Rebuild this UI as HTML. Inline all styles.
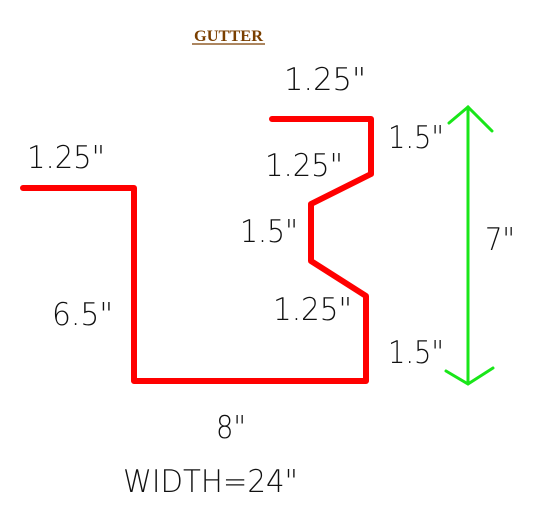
<!DOCTYPE html>
<html><head><meta charset="utf-8"><style>
html,body{margin:0;padding:0;background:#fff;width:537px;height:524px;overflow:hidden}
svg{display:block}
.lbl{font-family:"DejaVu Sans","Liberation Sans",sans-serif;font-weight:200;font-size:31px;fill:#111}
</style></head><body>
<svg width="537" height="524" viewBox="0 0 537 524" xmlns="http://www.w3.org/2000/svg">
<text x="194" y="41" font-family="Liberation Serif,serif" font-weight="bold" font-size="16" fill="#7a3f00" textLength="69" lengthAdjust="spacingAndGlyphs">GUTTER</text>
<line x1="192" y1="44" x2="265" y2="44" stroke="#7a3f00" stroke-width="1.2"/>
<path d="M23 188 H134 V381 H366 V296 L311 261 V204 L371 174 V119 H272" fill="none" stroke="#ff0000" stroke-width="6" stroke-linejoin="round" stroke-linecap="round"/>
<g stroke="#19e619" stroke-width="3" fill="none" stroke-linecap="round">
<line x1="468" y1="107" x2="468" y2="383"/>
<polyline points="449,123 468,107 492,131"/>
<polyline points="446,371 468,384 493,368"/>
</g>
<g class="lbl">
<text x="284" y="90" textLength="82" lengthAdjust="spacingAndGlyphs">1.25"</text>
<text x="27" y="168" textLength="78" lengthAdjust="spacingAndGlyphs">1.25"</text>
<text x="388" y="148" textLength="56" lengthAdjust="spacingAndGlyphs">1.5"</text>
<text x="265" y="176" textLength="78" lengthAdjust="spacingAndGlyphs">1.25"</text>
<text x="240" y="242" textLength="58" lengthAdjust="spacingAndGlyphs">1.5"</text>
<text x="485" y="250" textLength="30" lengthAdjust="spacingAndGlyphs">7"</text>
<text x="52" y="325" textLength="61" lengthAdjust="spacingAndGlyphs">6.5"</text>
<text x="273" y="320" textLength="79" lengthAdjust="spacingAndGlyphs">1.25"</text>
<text x="388" y="363" textLength="56" lengthAdjust="spacingAndGlyphs">1.5"</text>
<text x="216" y="438" textLength="30" lengthAdjust="spacingAndGlyphs">8"</text>
<text x="123" y="492" textLength="175" lengthAdjust="spacingAndGlyphs">WIDTH=24"</text>
</g>
</svg>
</body></html>
